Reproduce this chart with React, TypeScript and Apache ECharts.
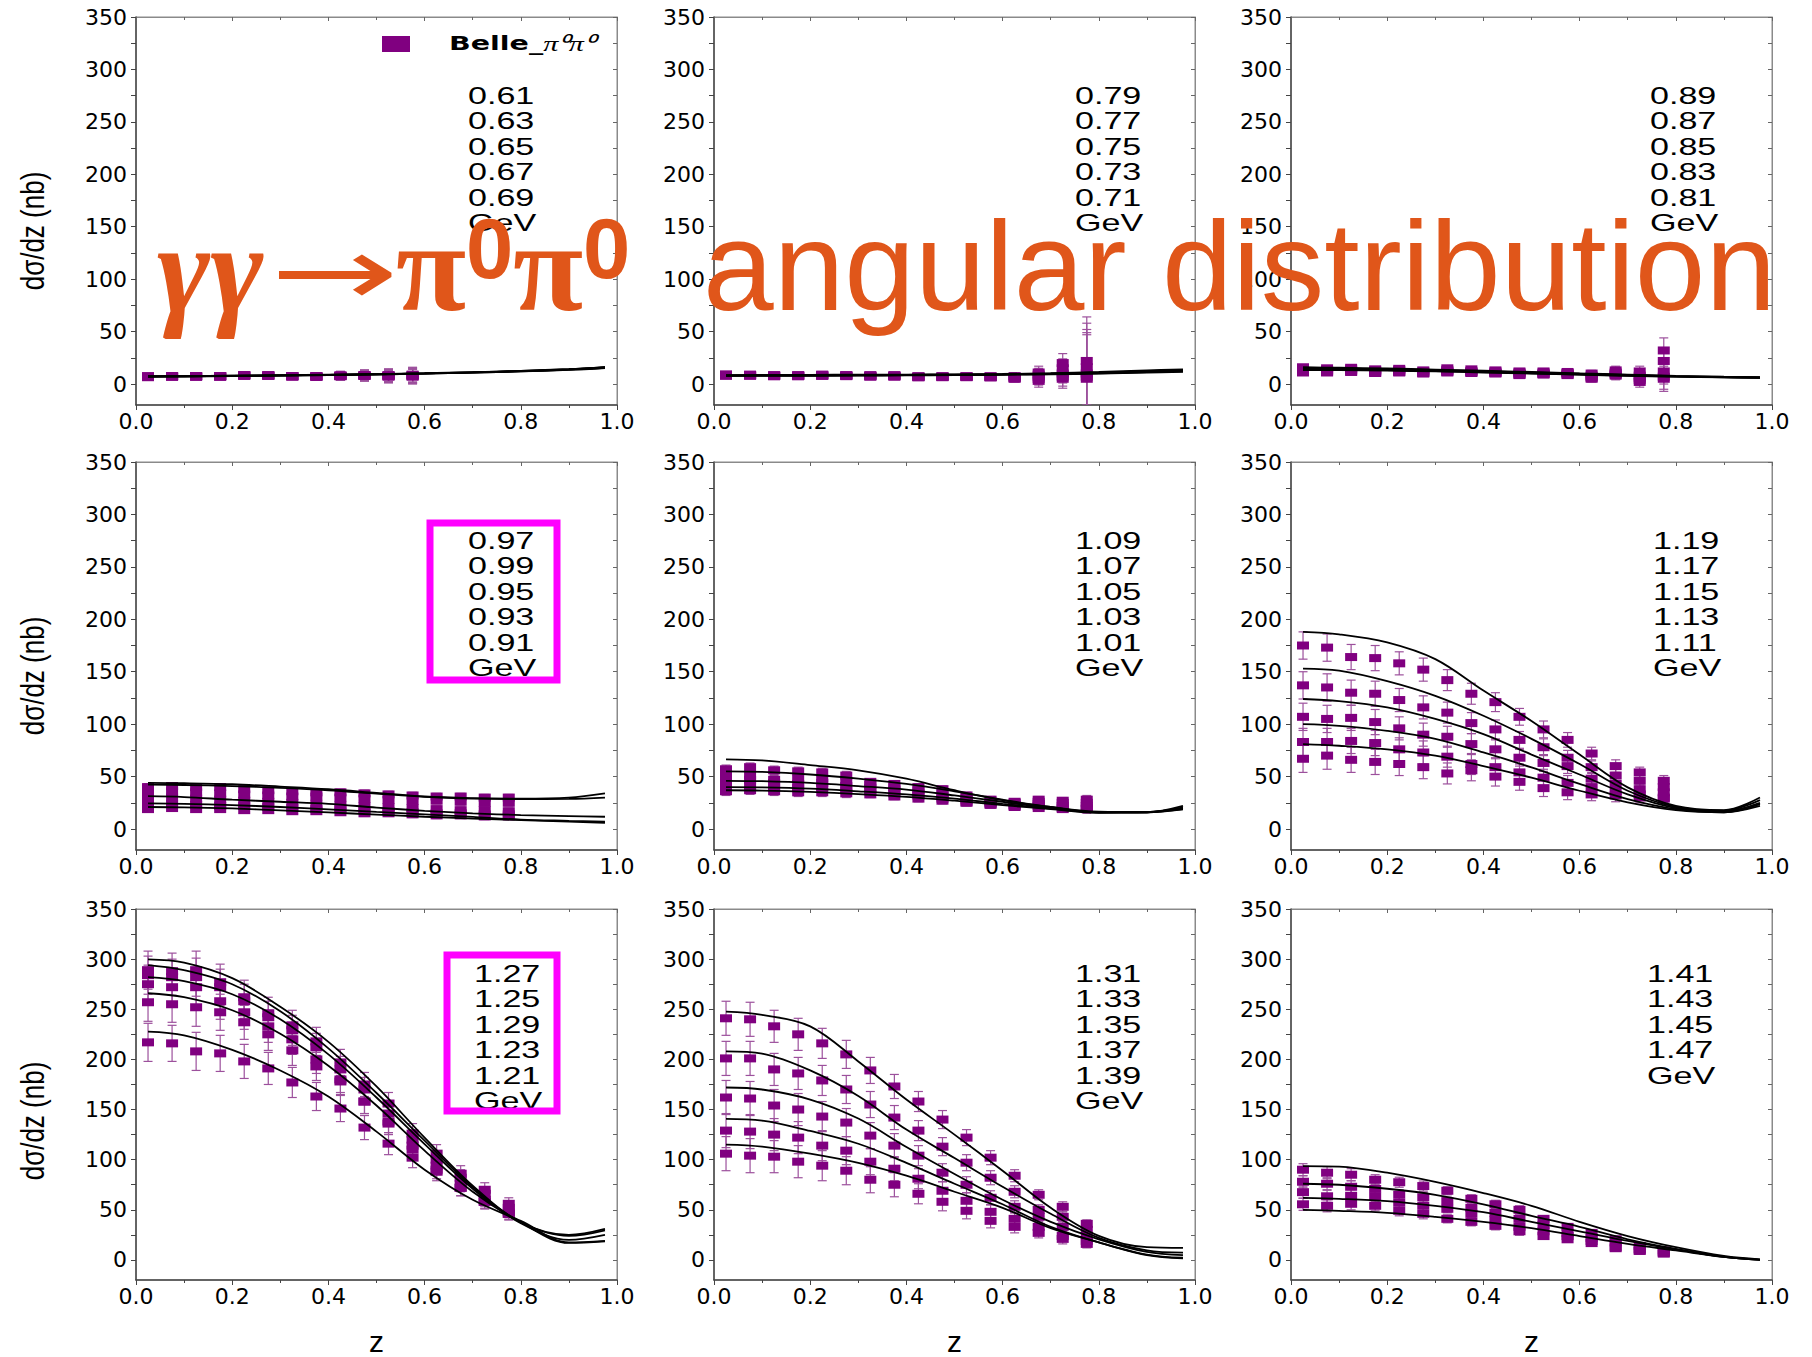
import React, { useEffect, useRef } from 'react';
import * as echarts from 'echarts';

// ---------- data ----------
const zData = [0.025, 0.075, 0.125, 0.175, 0.225, 0.275, 0.325, 0.375, 0.425, 0.475, 0.525, 0.575, 0.625, 0.675, 0.725, 0.775];
const zCurve = [0.025, 0.1, 0.2, 0.3, 0.4, 0.5, 0.6, 0.7, 0.8, 0.9, 0.975];
const yTicks = [0, 50, 100, 150, 200, 250, 300, 350];
const yMinorTicks = [0, 25, 50, 75, 100, 125, 150, 175, 200, 225, 250, 275, 300, 325, 350];

const p1E = ['0.61', '0.63', '0.65', '0.67', '0.69'];
const p2E = ['0.79', '0.77', '0.75', '0.73', '0.71'];
const p3E = ['0.89', '0.87', '0.85', '0.83', '0.81'];
const p4E = ['0.97', '0.99', '0.95', '0.93', '0.91'];
const p5E = ['1.09', '1.07', '1.05', '1.03', '1.01'];
const p6E = ['1.19', '1.17', '1.15', '1.13', '1.11'];
const p7E = ['1.27', '1.25', '1.29', '1.23', '1.21'];
const p8E = ['1.31', '1.33', '1.35', '1.37', '1.39'];
const p9E = ['1.41', '1.43', '1.45', '1.47'];

const p1Data = [
  [7.0, 7.5, 7.5, 7.0, 8.5, 8.0, 7.5, 7.0, 8.0, 8.0, 8.0, 8.0],
  [7.0, 7.0, 7.5, 7.5, 8.0, 8.5, 7.5, 7.5, 8.0, 8.5, 7.5, 7.0],
  [6.5, 7.5, 7.0, 7.5, 8.0, 8.0, 7.0, 7.0, 7.5, 8.0, 8.0, 8.5],
  [7.0, 7.0, 7.5, 7.0, 8.0, 8.0, 7.5, 7.0, 7.5, 8.0, 8.5, 9.0],
  [7.5, 7.5, 7.0, 7.5, 8.5, 8.0, 7.5, 7.5, 8.0, 8.0, 7.0, 7.5],
];
const p1Err = [1, 1, 1.5, 1.5, 1.5, 2, 2, 3, 4, 5, 6, 7];
const p1Fit = [
  [7.4, 7.6, 8.0, 8.4, 8.9, 9.5, 10.3, 11.3, 12.6, 14.3, 16.2],
  [7.3, 7.5, 7.9, 8.3, 8.8, 9.4, 10.2, 11.2, 12.5, 14.1, 16.0],
  [7.2, 7.4, 7.8, 8.2, 8.7, 9.3, 10.1, 11.1, 12.3, 13.9, 15.8],
  [7.1, 7.3, 7.7, 8.1, 8.6, 9.2, 10.0, 10.9, 12.1, 13.7, 15.5],
  [7.0, 7.2, 7.6, 8.0, 8.5, 9.1, 9.9, 10.8, 12.0, 13.5, 15.3],
];

const p2Data = [
  [9, 9, 8.5, 8.5, 9, 8.5, 8.5, 8.5, 7.5, 7.5, 7.5, 7.5, 7.5, 11, 20, 22],
  [8.5, 8.5, 8, 8, 8.5, 8, 8, 8, 7, 7, 7, 7, 7, 9, 15, 16],
  [8, 8, 7.5, 7.5, 8, 7.5, 7.5, 7, 7, 7, 7, 6.5, 6, 7, 10, 10],
  [8, 8.5, 8, 7.5, 8, 8, 7.5, 7.5, 6.5, 6.5, 7, 6.5, 5.5, 5, 7, 7],
  [9, 8, 7.5, 8, 8, 8, 7, 7.5, 6.5, 7, 6.5, 6.5, 5, 3, 5, 5],
];
const p2Err = [1.5, 1.5, 1.5, 1.5, 1.5, 1.5, 1.5, 2, 2, 2, 2, 2.5, 3, 6, 9, 42];
const p2Fit = [
  [8.5, 8.6, 8.8, 8.9, 9.0, 9.2, 9.6, 10.3, 11.5, 13.0, 14.0],
  [8.3, 8.4, 8.5, 8.6, 8.8, 9.0, 9.4, 10.0, 11.0, 12.3, 13.3],
  [8.1, 8.2, 8.3, 8.4, 8.6, 8.8, 9.2, 9.8, 10.6, 11.8, 12.7],
  [7.9, 8.0, 8.1, 8.2, 8.4, 8.6, 9.0, 9.5, 10.2, 11.3, 12.2],
  [7.7, 7.8, 7.9, 8.0, 8.2, 8.4, 8.8, 9.2, 9.9, 10.8, 11.6],
];

const p3Data = [
  [16, 15, 15.5, 14, 14.5, 13, 15, 14, 13, 12, 12, 11.5, 10, 13, 12, 32],
  [14, 13.5, 14, 13, 13.5, 12, 13.5, 12.5, 12, 11, 11, 10.5, 8, 11, 8, 22],
  [13, 12.5, 13, 12, 12, 11, 12.5, 11.5, 11, 10, 10, 10, 7, 10, 6, 12],
  [12, 11.5, 12, 11, 11.5, 10.5, 11.5, 11, 10.5, 9, 9.5, 9, 6, 9, 4, 7],
  [11, 11, 11.5, 10.5, 11, 10, 11, 10.5, 10, 8.5, 9, 8.5, 5, 8, 2, 5],
];
const p3Err = [2, 2, 2, 2, 2, 2, 2, 2, 2, 2, 2, 2, 3, 4, 5, 12];
const p3Fit = [
  [16.0, 15.5, 14.8, 13.8, 12.7, 11.5, 10.2, 9.0, 7.8, 7.0, 6.5],
  [15.2, 14.8, 14.2, 13.2, 12.2, 11.0, 9.8, 8.6, 7.5, 6.8, 6.3],
  [14.5, 14.2, 13.6, 12.8, 11.8, 10.6, 9.4, 8.3, 7.3, 6.6, 6.2],
  [14.0, 13.7, 13.2, 12.4, 11.4, 10.3, 9.1, 8.0, 7.1, 6.4, 6.0],
  [13.4, 13.2, 12.8, 12.0, 11.0, 10.0, 8.9, 7.8, 7.0, 6.3, 5.9],
];

const p4Data = [
  [40, 41, 40, 40, 38, 37, 36, 35, 35, 34, 33, 32, 31, 31, 30, 30],
  [35, 36, 35, 34, 33, 32, 31, 31, 30, 29, 28, 27, 27, 26, 25, 25],
  [29, 30, 29, 28, 27, 26, 25, 24, 23, 22, 21, 20, 19, 18, 18, 17],
  [23, 24, 23, 22, 22, 21, 20, 19, 19, 18, 17, 16, 15, 15, 14, 14],
  [19, 20, 19, 19, 18, 18, 17, 17, 16, 15, 15, 14, 13, 13, 12, 12],
];
const p4Err = [3, 3, 3, 3, 3, 3, 3, 3, 3, 3, 3, 3, 3, 3, 3, 3];
const p4Fit = [
  [44.0, 43.7, 42.7, 40.5, 38.0, 34.5, 31.0, 29.5, 29.0, 30.0, 34.0],
  [42.4, 42.0, 41.0, 39.3, 37.0, 33.8, 30.7, 29.0, 28.5, 28.7, 30.0],
  [31.3, 30.5, 28.0, 26.0, 24.0, 20.5, 17.4, 15.0, 13.3, 12.3, 11.7],
  [24.4, 24.0, 22.8, 21.0, 18.7, 16.3, 14.0, 11.5, 9.0, 7.8, 7.0],
  [21.0, 20.6, 19.6, 17.8, 15.8, 13.8, 11.7, 10.0, 8.5, 7.0, 6.0],
];

const p5Data = [
  [57, 59, 56, 55, 54, 51, 45, 43, 40, 38, 32, 28, 26, 28, 27, 28],
  [50, 51, 47, 48, 48, 45, 42, 40, 37, 34, 30, 26, 25, 26, 25, 25],
  [45, 47, 44, 43, 44, 41, 39, 37, 34, 31, 28, 25, 23, 24, 22, 22],
  [40, 41, 39, 39, 40, 37, 36, 34, 32, 29, 26, 24, 22, 22, 20, 20],
  [36, 37, 36, 35, 35, 34, 33, 31, 29, 27, 25, 23, 21, 20, 19, 19],
];
const p5Err = [4, 4, 4, 4, 4, 4, 3, 3, 3, 3, 3, 3, 3, 3, 3, 4];
const p5Fit = [
  [66.5, 65.5, 61.0, 56.0, 48.0, 37.0, 27.5, 21.0, 16.5, 16.0, 22.0],
  [55.0, 54.5, 52.0, 48.0, 43.0, 36.0, 28.0, 21.0, 16.0, 16.0, 20.6],
  [46.0, 45.6, 44.0, 41.0, 37.6, 32.0, 26.0, 20.0, 16.0, 16.2, 19.6],
  [40.0, 39.8, 38.6, 36.0, 33.0, 29.0, 24.0, 19.5, 15.8, 16.0, 19.0],
  [37.0, 36.7, 35.4, 33.3, 30.7, 27.0, 22.8, 19.0, 15.5, 15.8, 18.7],
];

const p6Data = [
  [175, 173, 164, 163, 158, 152, 142, 129, 121, 107, 95, 85, 72, 60, 54, 46],
  [137, 135, 130, 129, 123, 116, 111, 101, 95, 85, 78, 68, 59, 51, 46, 40],
  [107, 105, 106, 102, 96, 90, 88, 81, 76, 68, 63, 60, 48, 43, 38, 35],
  [83, 83, 84, 82, 76, 73, 69, 62, 59, 54, 49, 44, 40, 36, 33, 30],
  [67, 70, 66, 64, 62, 59, 53, 56, 50, 45, 39, 35, 33, 32, 30, 29],
];
const p6Err = [13, 13, 12, 12, 11, 11, 10, 10, 9, 8, 8, 7, 6, 6, 5, 5];
const p6Fit = [
  [188, 185.7, 178, 162, 132, 103, 71, 39.7, 22, 18, 30],
  [153, 151, 141, 127, 108, 86, 62, 36.5, 21, 17.5, 27.6],
  [124, 122, 116, 105, 90.5, 71, 52, 33, 20, 17, 25],
  [100, 98.4, 93.6, 86, 73, 58.7, 43, 28.6, 19, 16, 23.8],
  [81, 79.4, 76, 70, 60, 49, 36.5, 25.4, 18, 15.9, 22],
];

const p7Data = [
  [289, 288, 289, 277, 262, 246, 234, 218, 197, 175, 156, 126, 106, 86, 70, 56],
  [284, 282, 282, 272, 258, 242, 229, 212, 190, 170, 146, 120, 100, 82, 66, 52],
  [275, 272, 272, 258, 247, 233, 220, 200, 180, 158, 136, 114, 94, 76, 60, 48],
  [257, 255, 252, 247, 237, 225, 209, 193, 178, 158, 138, 110, 90, 72, 58, 46],
  [217, 216, 208, 206, 198, 191, 177, 163, 151, 132, 116, 102, 88, 72, 58, 46],
];
const p7Err = [19, 18, 19, 18, 17, 16, 15, 14, 13, 12, 11, 10, 9, 8, 7, 6];
const p7Fit = [
  [299.7, 296.5, 281, 252.5, 217.5, 173, 122, 74, 37.6, 25, 31],
  [294, 289, 275, 248, 211, 166.5, 119, 72.6, 37.6, 24, 29.6],
  [282, 278, 265, 240, 205, 162, 115.6, 71, 36.6, 20, 25],
  [266, 262, 249, 225.5, 193.6, 154, 109, 68, 37.6, 17, 18.5],
  [227.7, 224, 209.5, 189, 163, 128, 90, 60, 39, 17.5, 19],
];

const p8Data = [
  [241, 240, 233, 225, 216, 205, 189, 173, 158, 140, 122, 102, 84, 65, 53, 36],
  [201, 201, 190, 186, 179, 170, 155, 142, 129, 113, 97, 82, 68, 50, 43, 30],
  [162, 161, 154, 150, 143, 137, 124, 114, 104, 87, 75, 62, 53, 43, 33, 24],
  [129, 128, 125, 122, 114, 109, 98, 91, 81, 69, 59, 48, 41, 33, 24, 19],
  [106, 104, 103, 98, 94, 89, 80, 75, 66, 58, 49, 39, 33, 27, 21, 16],
];
const p8Err = [17, 17, 16, 16, 15, 14, 13, 12, 10, 9, 8, 7, 6, 5, 5, 4];
const p8Fit = [
  [247.6, 244.4, 233, 198, 160, 125, 89, 52, 24, 12.7, 12],
  [208, 205.7, 189, 163.5, 130, 101.6, 73, 46, 22, 9.5, 7.3],
  [172, 170, 160, 141, 112.7, 85.7, 60, 38, 20.6, 8, 4.8],
  [140.6, 139, 128.6, 115.9, 96.8, 76, 55.5, 33, 17.5, 5.4, 2.2],
  [115, 113, 106, 96.8, 84, 68, 52, 31.7, 17.5, 4.8, 1.6],
];

const p9Data = [
  [90, 87, 85, 80, 77.5, 73.7, 69, 61, 55.5, 50, 41, 33, 27, 20.6, 14, 9.5],
  [78, 76, 73, 70.8, 65, 62.5, 58.7, 52, 47, 41, 35, 27, 22, 17.5, 11, 8],
  [67.6, 63.5, 64, 63, 57, 54, 51, 46, 39.7, 33, 28.6, 23.8, 19, 12.7, 9.5, 7],
  [55.5, 54, 56, 54, 49, 46, 41, 38, 34, 28.6, 23.8, 20.6, 16.8, 11.7, 9, 6.3],
];
const p9Err = [6, 6, 6, 5, 5, 5, 4, 4, 4, 4, 3, 3, 3, 3, 3, 2];
const p9Fit = [
  [93.6, 93, 87, 77.8, 66.7, 54, 38, 23.8, 12.7, 4, 0.6],
  [76, 75, 71, 65, 55.5, 44, 33, 20.6, 11, 3, 0.3],
  [62, 61, 58.7, 54, 47.6, 38, 28.6, 19, 10.5, 3, 0],
  [50, 49, 47, 43, 38, 31.7, 23.8, 16, 9.5, 3, 0],
];

const legendName = 'Belle_π⁰π⁰';
const yTitle = 'dσ/dz (nb)';
const xTitle = 'z';

// ---------- layout ----------
const GRID_LEFT = [136, 714, 1291];
const GRID_TOP = [17, 462, 909];
const GRID_W = 481;
const GRID_H = 388;
const LABEL_X = [[468, 1075, 1650], [468, 1075, 1653], [474, 1075, 1647]];
const LABEL_Y0 = [95, 540, 973];
const LABEL_STEP = 25.5;

const PURPLE = '#800080';
const ERR_COLOR = '#9c509c';
const ORANGE = '#E0561A';

const panels = [
  { e: p1E, data: p1Data, err: p1Err, fit: p1Fit },
  { e: p2E, data: p2Data, err: p2Err, fit: p2Fit },
  { e: p3E, data: p3Data, err: p3Err, fit: p3Fit },
  { e: p4E, data: p4Data, err: p4Err, fit: p4Fit },
  { e: p5E, data: p5Data, err: p5Err, fit: p5Fit },
  { e: p6E, data: p6Data, err: p6Err, fit: p6Fit },
  { e: p7E, data: p7Data, err: p7Err, fit: p7Fit },
  { e: p8E, data: p8Data, err: p8Err, fit: p8Fit },
  { e: p9E, data: p9Data, err: p9Err, fit: p9Fit },
];

function buildOption() {
  const grid: any[] = [];
  const xAxis: any[] = [];
  const yAxis: any[] = [];
  const series: any[] = [];
  const graphic: any[] = [];
  const tickFont = { fontFamily: 'DejaVu Sans', fontSize: 22, color: '#000' };

  panels.forEach((p, i) => {
    const row = Math.floor(i / 3);
    const col = i % 3;
    grid.push({
      left: GRID_LEFT[col], top: GRID_TOP[row], width: GRID_W, height: GRID_H,
      show: true, borderColor: '#8a8a8a', borderWidth: 1, backgroundColor: 'transparent',
    });
    xAxis.push({
      gridIndex: i, type: 'value', min: 0, max: 1, interval: 0.2, position: 'bottom',
      axisLine: { show: true, onZero: false, lineStyle: { color: '#444', width: 1.5 } },
      axisTick: { show: true, inside: false, length: 5, lineStyle: { color: '#444' } },
      minorTick: { show: true, splitNumber: 2, length: 3, lineStyle: { color: '#444' } },
      splitLine: { show: false },
      axisLabel: { ...tickFont, margin: 5, formatter: (v: number) => v.toFixed(1) },
      name: row === 2 ? xTitle : '',
      nameLocation: 'middle', nameGap: 46,
      nameTextStyle: { fontFamily: 'Liberation Sans', fontSize: 30, color: '#000' },
    });
    xAxis.push({
      gridIndex: i, type: 'value', min: 0, max: 1, interval: 0.2, position: 'top',
      axisLine: { show: true, onZero: false, lineStyle: { color: '#8a8a8a', width: 1 } },
      axisTick: { show: true, inside: true, length: 4, lineStyle: { color: '#666' } },
      minorTick: { show: true, splitNumber: 2, length: 3, lineStyle: { color: '#666' } },
      splitLine: { show: false }, axisLabel: { show: false },
    });
    yAxis.push({
      gridIndex: i, type: 'value', min: -20, max: 350, position: 'left',
      axisLine: { show: true, onZero: false, lineStyle: { color: '#444', width: 1.5 } },
      axisTick: { show: true, inside: false, length: 5, customValues: yMinorTicks, lineStyle: { color: '#444' } },
      splitLine: { show: false },
      axisLabel: { ...tickFont, margin: 9, customValues: yTicks },
    });
    yAxis.push({
      gridIndex: i, type: 'value', min: -20, max: 350, position: 'right',
      axisLine: { show: true, onZero: false, lineStyle: { color: '#8a8a8a', width: 1 } },
      axisTick: { show: true, inside: true, length: 4, customValues: yMinorTicks, lineStyle: { color: '#666' } },
      splitLine: { show: false }, axisLabel: { show: false },
    });

    const errData: number[][] = [];
    const ptData: number[][] = [];
    p.data.forEach((s) => {
      s.forEach((v, j) => {
        errData.push([zData[j], v, p.err[j]]);
        ptData.push([zData[j], v]);
      });
    });
    series.push({
      type: 'custom', xAxisIndex: 2 * i, yAxisIndex: 2 * i, clip: true, silent: true,
      encode: { x: 0, y: 1 },
      data: errData,
      renderItem: (params: any, api: any) => {
        const x = api.value(0), y = api.value(1), e = api.value(2);
        const t = api.coord([x, y + e]);
        const b = api.coord([x, y - e]);
        const w = 4.5;
        const style = { stroke: ERR_COLOR, lineWidth: 1.2, fill: 'none' };
        return {
          type: 'group',
          children: [
            { type: 'line', shape: { x1: t[0], y1: t[1], x2: b[0], y2: b[1] }, style },
            { type: 'line', shape: { x1: t[0] - w, y1: t[1], x2: t[0] + w, y2: t[1] }, style },
            { type: 'line', shape: { x1: b[0] - w, y1: b[1], x2: b[0] + w, y2: b[1] }, style },
          ],
        };
      },
      z: 2,
    });
    series.push({
      type: 'scatter', name: legendName, xAxisIndex: 2 * i, yAxisIndex: 2 * i,
      symbol: 'rect', symbolSize: [12, 8], clip: true,
      itemStyle: { color: PURPLE, opacity: 1 },
      data: ptData, z: 3,
    });
    p.fit.forEach((f) => {
      series.push({
        type: 'line', xAxisIndex: 2 * i, yAxisIndex: 2 * i, smooth: 0.35, symbol: 'none',
        lineStyle: { color: '#000', width: 1.8 }, silent: true,
        data: f.map((v, k) => [zCurve[k], v]), z: 4,
      });
    });

    graphic.push({
      type: 'text', x: LABEL_X[row][col], y: LABEL_Y0[row] - LABEL_STEP / 2, scaleX: 1.42,
      z: 50,
      style: {
        text: [...p.e, 'GeV'].join('\n'),
        fontFamily: 'Liberation Sans', fontSize: 24, lineHeight: LABEL_STEP,
        fill: '#000', align: 'left', verticalAlign: 'top',
      },
    });
  });

  // magenta boxes
  graphic.push({ type: 'rect', z: 60, shape: { x: 430, y: 523, width: 127, height: 157 }, style: { fill: 'none', stroke: '#FF00FF', lineWidth: 7 } });
  graphic.push({ type: 'rect', z: 60, shape: { x: 447, y: 955, width: 110, height: 156 }, style: { fill: 'none', stroke: '#FF00FF', lineWidth: 7 } });

  // legend
  graphic.push({ type: 'rect', z: 60, shape: { x: 382, y: 36, width: 28, height: 16 }, style: { fill: PURPLE } });
  graphic.push({
    type: 'text', z: 60, x: 449, y: 44, scaleX: 1.5,
    style: {
      text: '{b|Belle_}{p|π⁰π⁰}',
      rich: {
        b: { fontFamily: 'DejaVu Sans', fontWeight: 'bold', fontSize: 19, fill: '#000' },
        p: { fontFamily: 'Liberation Serif', fontStyle: 'italic', fontSize: 20, fill: '#000' },
      },
      align: 'left', verticalAlign: 'middle',
    },
  });

  // y axis titles
  [231, 676, 1121].forEach((cy) => {
    graphic.push({
      type: 'text', z: 60, x: 32, y: cy, rotation: Math.PI / 2, scaleY: 1.25,
      style: { text: yTitle, fontFamily: 'Liberation Sans', fontSize: 26, fill: '#000', align: 'center', verticalAlign: 'middle' },
    });
  });

  // big title overlay
  const serif = { fontFamily: 'Liberation Serif', fontWeight: 'bold', fontSize: 128, fill: ORANGE, align: 'left', verticalAlign: 'middle' };
  const sup = { fontFamily: 'Liberation Sans', fontWeight: 'bold', fontSize: 85, fill: ORANGE, align: 'left', verticalAlign: 'middle' };
  graphic.push({ type: 'text', z: 100, x: 157, y: 269, style: { ...serif, fontStyle: 'italic', text: 'γγ' } });
  graphic.push({
    type: 'text', z: 100, x: 270, y: 272, scaleX: 1.6,
    style: { text: '→', fontFamily: 'DejaVu Sans', fontSize: 96, fill: ORANGE, align: 'left', verticalAlign: 'middle' },
  });
  graphic.push({ type: 'text', z: 100, x: 396, y: 267, style: { ...serif, text: 'π' } });
  graphic.push({ type: 'text', z: 100, x: 466, y: 248, style: { ...sup, text: '0' } });
  graphic.push({ type: 'text', z: 100, x: 513, y: 267, style: { ...serif, text: 'π' } });
  graphic.push({ type: 'text', z: 100, x: 583, y: 248, style: { ...sup, text: '0' } });
  graphic.push({
    type: 'text', z: 100, x: 703, y: 266,
    style: { text: 'angular distribution', fontFamily: 'Liberation Sans', fontSize: 127, fill: ORANGE, align: 'left', verticalAlign: 'middle' },
  });

  return {
    animation: false,
    backgroundColor: '#fff',
    grid, xAxis, yAxis, series, graphic,
  };
}

export default function App() {
  const ref = useRef<HTMLDivElement>(null);
  useEffect(() => {
    document.body.style.margin = '0';
    if (!ref.current) return;
    const chart = echarts.init(ref.current, null, { renderer: 'svg' });
    chart.setOption(buildOption() as any);
    return () => chart.dispose();
  }, []);
  return <div ref={ref} style={{ width: 1812, height: 1357 }} />;
}
